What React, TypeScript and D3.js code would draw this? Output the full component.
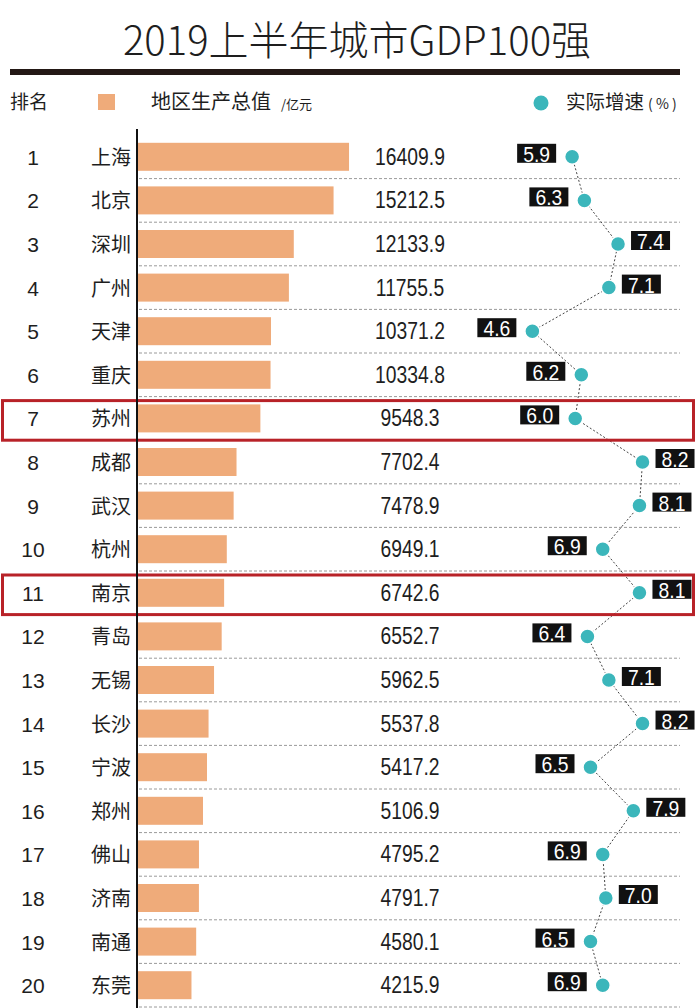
import React from "react";
import * as d3 from "d3";

const ranks = [1, 2, 3, 4, 5, 6, 7, 8, 9, 10, 11, 12, 13, 14, 15, 16, 17, 18, 19, 20];
const cities = ["上海", "北京", "深圳", "广州", "天津", "重庆", "苏州", "成都", "武汉", "杭州", "南京", "青岛", "无锡", "长沙", "宁波", "郑州", "佛山", "济南", "南通", "东莞"];
const gdp = [16409.9, 15212.5, 12133.9, 11755.5, 10371.2, 10334.8, 9548.3, 7702.4, 7478.9, 6949.1, 6742.6, 6552.7, 5962.5, 5537.8, 5417.2, 5106.9, 4795.2, 4791.7, 4580.1, 4215.9];
const growth = [5.9, 6.3, 7.4, 7.1, 4.6, 6.2, 6.0, 8.2, 8.1, 6.9, 8.1, 6.4, 7.1, 8.2, 6.5, 7.9, 6.9, 7.0, 6.5, 6.9];
const highlighted = ["苏州", "南京"];

const W = 696;
const H = 1008;
const CJK = "'Noto Sans CJK SC', 'Noto Sans', sans-serif";
const NUM = "'Liberation Sans', Roboto, Arial, sans-serif";
const BAR = "#efab7a";
const TEAL = "#3bb6bb";
const INK = "#1e1e1e";
const RED = "#b82228";

export default function App() {
  const rows = d3
    .scaleBand<string>()
    .domain(cities)
    .range([135, 135 + 43.6 * cities.length])
    .paddingInner(0)
    .paddingOuter(0);
  const step = rows.step();
  const cy = (c: string) => (rows(c) as number) + step / 2;

  const x = d3.scaleLinear().domain([0, 16500]).range([137, 350.2]);
  const g = d3.scaleLinear().domain([4, 9]).range([514, 667]);

  const pts: [number, number][] = cities.map((c, i) => [g(growth[i]), cy(c)]);
  const line = d3.line<[number, number]>()(pts) || "";

  return (
    <svg
      width={W}
      height={H}
      viewBox={`0 0 ${W} ${H}`}
      style={{ position: "absolute", left: 0, top: 0, background: "#fff" }}
    >
      <rect x={0} y={0} width={W} height={H} fill="#fff" />
      {/* title */}
      <text
        x={357}
        y={55}
        textAnchor="middle"
        fontFamily={CJK}
        fontSize={40}
        fontWeight={300}
        fill={INK}
      >
        2019上半年城市GDP100强
      </text>
      <rect x={10} y={69} width={670} height={6} fill="#231815" />

      {/* header */}
      <text x={10} y={109} fontFamily={CJK} fontSize={19} fill={INK}>
        排名
      </text>
      <rect x={98} y={94} width={17} height={16} fill={BAR} />
      <text x={151} y={109} fontFamily={CJK} fontSize={20} fill={INK}>
        地区生产总值
        <tspan dx={10} fontSize={13}>
          /亿元
        </tspan>
      </text>
      <circle cx={541} cy={103} r={7.5} fill={TEAL} />
      <text x={566} y={109} fontFamily={CJK} fontSize={19.5} fill={INK}>
        实际增速
        <tspan dx={4} fontSize={14}>
          ( % )
        </tspan>
      </text>

      {/* separators */}
      {cities.map((c) => (
        <line
          key={"sep" + c}
          x1={139}
          x2={680}
          y1={(rows(c) as number) + step}
          y2={(rows(c) as number) + step}
          stroke="#9a9a9a"
          strokeWidth={1}
          strokeDasharray="3,2"
        />
      ))}

      {/* bars */}
      {cities.map((c, i) => (
        <rect
          key={"bar" + c}
          x={x(0)}
          y={cy(c) - 14}
          width={x(gdp[i]) - x(0)}
          height={28}
          fill={BAR}
        />
      ))}

      {/* rank + city */}
      {cities.map((c, i) => (
        <g key={"lab" + c}>
          <text
            x={33}
            y={cy(c) + 8}
            textAnchor="middle"
            fontFamily={NUM}
            fontSize={21}
            fill={INK}
          >
            {ranks[i]}
          </text>
          <text
            x={131}
            y={cy(c) + 8}
            textAnchor="end"
            fontFamily={CJK}
            fontSize={20}
            fill={INK}
          >
            {c}
          </text>
        </g>
      ))}

      {/* values */}
      {cities.map((c, i) => (
        <text
          key={"val" + c}
          transform={`translate(410,${cy(c) + 8}) scale(0.84,1)`}
          textAnchor="middle"
          fontFamily={NUM}
          fontSize={23}
          fill={INK}
        >
          {gdp[i].toFixed(1)}
        </text>
      ))}

      {/* growth connector */}
      <path d={line} fill="none" stroke="#444" strokeWidth={1} strokeDasharray="2,2" />

      {/* growth dots + labels */}
      {cities.map((c, i) => {
        const px = g(growth[i]);
        const py = cy(c);
        const right = growth[i] >= 7;
        const bw = 39;
        const bx = right ? px + 13 : px - 16 - bw;
        return (
          <g key={"gr" + c}>
            <rect x={bx} y={py - 13} width={bw} height={19} fill="#111" />
            <text
              transform={`translate(${bx + bw / 2},${py + 5}) scale(0.86,1)`}
              textAnchor="middle"
              fontFamily={NUM}
              fontSize={22.5}
              fill="#fff"
            >
              {growth[i].toFixed(1)}
            </text>
            <circle cx={px} cy={py} r={7.5} fill={TEAL} stroke="#fff" strokeWidth={1.5} />
          </g>
        );
      })}

      {/* highlight boxes */}
      {cities
        .filter((c) => highlighted.includes(c))
        .map((c) => (
          <rect
            key={"hl" + c}
            x={2.5}
            y={(rows(c) as number) + 4}
            width={691}
            height={step - 4}
            fill="none"
            stroke={RED}
            strokeWidth={3}
          />
        ))}

      {/* axis */}
      <line x1={137} x2={137} y1={129} y2={H} stroke="#111" strokeWidth={2} />
    </svg>
  );
}
